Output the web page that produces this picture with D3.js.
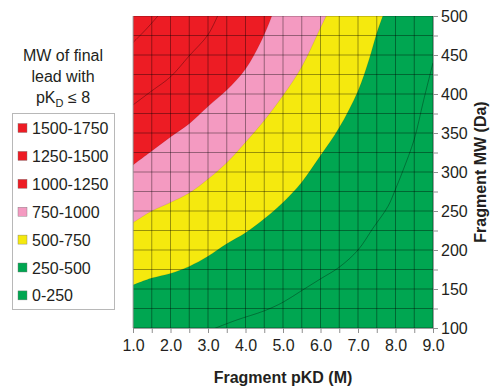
<!DOCTYPE html>
<html>
<head>
<meta charset="utf-8">
<script src="https://cdn.jsdelivr.net/npm/d3@7"></script>
<style>
  body { margin: 0; background: #fff; }
  svg text { font-family: "Liberation Sans", Arial, sans-serif; fill: #231f20; }
</style>
</head>
<body>
<div id="chart"></div>
<script>
// contour boundaries: [fragment pKD, fragment MW]
const bound500 = [[1.0,155],[1.5,164],[2.0,170],[2.5,179],[3.0,192],[3.5,208],[4.0,222],[4.5,240],[5.0,261],[5.5,287],[6.0,321],[6.5,357],[7.0,404],[7.3,445],[7.5,478],[7.7,505]];
const bound750 = [[1.0,235],[1.5,250],[2.0,261],[2.5,273],[3.0,291],[3.5,312],[4.0,338],[4.5,366],[5.0,398],[5.5,435],[6.0,485],[6.25,510]];
const bound1000 = [[1.0,309],[1.5,327],[2.0,345],[2.5,362],[3.0,384],[3.5,405],[4.0,432],[4.4,466],[4.7,500],[4.75,510]];
// thin contour lines inside the bands
const line250 = [[3.1,98],[3.75,110],[4.5,122],[5.0,133],[5.5,148],[6.0,163],[6.5,178],[7.0,200],[7.4,228],[7.8,256],[8.0,278],[8.2,302],[8.5,342],[8.75,392],[9.0,440]];
const line1250 = [[1.0,386],[1.5,404],[2.0,422],[2.5,449],[3.0,476],[3.3,505]];
const line1500 = [[1.0,466],[1.35,483],[1.7,502]];

const legendLabels = ["1500-1750","1250-1500","1000-1250","750-1000","500-750","250-500","0-250"];
const legendColors = ["#ed1c24","#ed1c24","#ed1c24","#f49ac1","#f5e90e","#00a651","#00a651"];
const xTicks = d3.range(1, 9.01, 0.5);
const yTicks = d3.range(100, 501, 25);

const W = 491, H = 387;
const plot = { left: 133, right: 433, top: 16, bottom: 328 };

const svg = d3.select("#chart").append("svg")
  .attr("width", W).attr("height", H);

const x = d3.scaleLinear().domain([1, 9]).range([plot.left, plot.right]);
const y = d3.scaleLinear().domain([100, 500]).range([plot.bottom, plot.top]);

svg.append("clipPath").attr("id", "clip")
  .append("rect")
  .attr("x", x(1)).attr("y", y(500))
  .attr("width", x(9) - x(1)).attr("height", y(100) - y(500));

const g = svg.append("g").attr("clip-path", "url(#clip)");

const line = d3.line()
  .x(d => x(d[0])).y(d => y(d[1]))
  .curve(d3.curveCatmullRom.alpha(0.5));

// band below a boundary, closed round the bottom-right corner
function band(pts) {
  const last = pts[pts.length - 1];
  return line(pts) +
    `L${x(9.2)},${y(last[1])}L${x(9.2)},${y(90)}L${x(0.9)},${y(90)}L${x(0.9)},${y(pts[0][1])}Z`;
}

// red background first, then lower bands on top
g.append("rect")
  .attr("x", x(1)).attr("y", y(500))
  .attr("width", x(9) - x(1)).attr("height", y(100) - y(500))
  .attr("fill", "#ed1c24");

g.append("path").attr("d", band(bound1000)).attr("fill", "#f49ac1")
  .attr("stroke", "rgba(0,0,0,0.15)").attr("stroke-width", 0.6);
g.append("path").attr("d", band(bound750)).attr("fill", "#f5e90e")
  .attr("stroke", "rgba(0,0,0,0.15)").attr("stroke-width", 0.6);
g.append("path").attr("d", band(bound500)).attr("fill", "#00a651")
  .attr("stroke", "rgba(0,0,0,0.15)").attr("stroke-width", 0.6);

[line250, line1250, line1500].forEach(pts => {
  g.append("path").attr("d", line(pts))
    .attr("fill", "none")
    .attr("stroke", "rgba(0,0,0,0.4)")
    .attr("stroke-width", 0.8);
});

// grid
g.selectAll(".vgrid").data(xTicks).enter().append("line")
  .attr("x1", d => x(d)).attr("x2", d => x(d))
  .attr("y1", y(100)).attr("y2", y(500))
  .attr("stroke", "rgba(0,0,0,0.38)").attr("stroke-width", 1);
g.selectAll(".hgrid").data(yTicks).enter().append("line")
  .attr("x1", x(1)).attr("x2", x(9))
  .attr("y1", d => y(d)).attr("y2", d => y(d))
  .attr("stroke", "rgba(0,0,0,0.38)").attr("stroke-width", 1);

// left plot edge
svg.append("line")
  .attr("x1", x(1)).attr("x2", x(1)).attr("y1", y(100)).attr("y2", y(500))
  .attr("stroke", "#b0b0b0").attr("stroke-width", 1);

// axes
const xAxis = svg.append("g")
  .attr("transform", `translate(0,${y(100)})`)
  .call(d3.axisBottom(x).tickValues(xTicks).tickSize(5).tickPadding(7)
    .tickFormat(d => d % 1 === 0 ? d3.format(".1f")(d) : ""));
const yAxis = svg.append("g")
  .attr("transform", `translate(${x(9)},0)`)
  .call(d3.axisRight(y).tickValues(yTicks).tickSize(5).tickPadding(3)
    .tickFormat(d => d % 50 === 0 ? d : ""));

[xAxis, yAxis].forEach(a => {
  a.select(".domain").attr("stroke", "#a0a0a0");
  a.selectAll(".tick line").attr("stroke", "#909090");
  a.selectAll(".tick text").style("font-size", "16px").attr("fill", "#231f20")
    .style("font-family", "'Liberation Sans', Arial, sans-serif");
});

svg.append("text")
  .attr("x", 283).attr("y", 383)
  .attr("text-anchor", "middle")
  .style("font-size", "16px").style("font-weight", "bold")
  .text("Fragment pKD (M)");

svg.append("text")
  .attr("transform", `translate(486,172) rotate(-90)`)
  .attr("text-anchor", "middle")
  .style("font-size", "16px").style("font-weight", "bold")
  .text("Fragment MW (Da)");

// legend title
const title = svg.append("g").attr("text-anchor", "middle").style("font-size", "16px");
title.append("text").attr("x", 63).attr("y", 61).text("MW of final");
title.append("text").attr("x", 63).attr("y", 82).text("lead with");
const t3 = title.append("text").attr("x", 63).attr("y", 103);
t3.append("tspan").text("pK");
t3.append("tspan").attr("dy", 4).style("font-size", "11px").text("D");
t3.append("tspan").attr("dy", -4).text(" \u2264 8");

// legend box
svg.append("rect")
  .attr("x", 12.5).attr("y", 113.5).attr("width", 102).attr("height", 196)
  .attr("fill", "#fff").attr("stroke", "#b8b8b8").attr("stroke-width", 1);

const leg = svg.selectAll(".leg").data(legendLabels).enter().append("g")
  .attr("transform", (d, i) => `translate(18,${128 + i * 27.9})`);
leg.append("rect")
  .attr("x", 0).attr("y", -4.5).attr("width", 9).attr("height", 9)
  .attr("fill", (d, i) => legendColors[i])
  .attr("stroke", "#777").attr("stroke-width", 0.4);
leg.append("text")
  .attr("x", 14).attr("y", 6)
  .style("font-size", "16px")
  .text(d => d);
</script>
</body>
</html>
